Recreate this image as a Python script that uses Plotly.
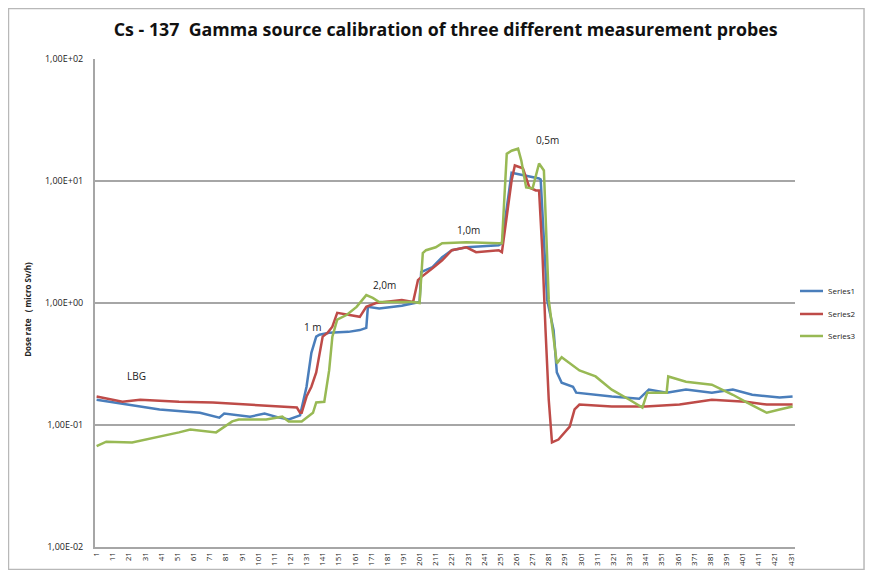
import math
import plotly.graph_objects as go

# sample number (category) and dose rate values
s1_x = [1, 21, 40, 65, 77, 80, 96, 105, 114, 120, 127, 131, 134, 137, 139, 145, 157, 164, 168, 169,
        176, 190, 197, 201, 202, 209, 215, 221, 230, 250, 252, 257, 258, 275, 276, 280, 281, 284, 286,
        289, 296, 298, 320, 337, 343, 354, 366, 382, 395, 407, 424, 432]
s1_y = [0.161, 0.147, 0.134, 0.126, 0.115, 0.124, 0.117, 0.124, 0.115, 0.111, 0.120, 0.206, 0.39, 0.53,
        0.55, 0.57, 0.58, 0.60, 0.625, 0.93, 0.90, 0.95, 1.0, 1.02, 1.79, 1.97, 2.37, 2.71, 2.86, 2.97,
        3.09, 10.1, 11.7, 10.5, 10.3, 1.06, 0.93, 0.60, 0.27, 0.222, 0.206, 0.184, 0.171, 0.164, 0.195,
        0.184, 0.195, 0.184, 0.195, 0.177, 0.168, 0.171]

s2_x = [1, 17, 28, 52, 73, 94, 114, 125, 127, 128, 131, 134, 137, 139, 141, 144, 147, 150, 157, 164,
        168, 174, 190, 197, 200, 202, 209, 215, 221, 230, 236, 250, 252, 255, 258, 260, 265, 269, 273,
        275, 277, 279, 281, 283, 287, 294, 297, 300, 320, 341, 362, 382, 403, 416, 432]
s2_y = [0.171, 0.155, 0.161, 0.155, 0.153, 0.147, 0.142, 0.139, 0.126, 0.126, 0.171, 0.206, 0.27, 0.39,
        0.53, 0.57, 0.64, 0.83, 0.80, 0.77, 0.93, 1.0, 1.06, 1.02, 1.54, 1.63, 1.93, 2.24, 2.71, 2.86,
        2.61, 2.71, 2.61, 5.0, 10.1, 13.4, 12.7, 8.85, 8.36, 8.36, 2.71, 0.60, 0.161, 0.072, 0.076,
        0.097, 0.134, 0.147, 0.142, 0.142, 0.147, 0.161, 0.155, 0.147, 0.147]

s3_x = [1, 7, 23, 38, 52, 59, 75, 85, 89, 106, 116, 120, 128, 135, 137, 142, 145, 147, 150, 156, 162,
        168, 172, 176, 197, 201, 203, 205, 211, 215, 230, 250, 252, 255, 258, 262, 264, 267, 271, 275,
        278, 281, 284, 286, 289, 300, 310, 320, 331, 339, 342, 354, 355, 366, 382, 395, 403, 416, 424, 432]
s3_y = [0.067, 0.073, 0.072, 0.079, 0.087, 0.092, 0.087, 0.107, 0.111, 0.111, 0.117, 0.107, 0.107,
        0.126, 0.153, 0.155, 0.28, 0.53, 0.73, 0.80, 0.93, 1.16, 1.10, 1.02, 1.02, 1.0, 2.56, 2.71, 2.86,
        3.09, 3.15, 3.09, 3.09, 16.7, 17.7, 18.4, 14.7, 8.85, 8.7, 13.9, 12.2, 1.06, 0.50, 0.32, 0.36,
        0.28, 0.25, 0.195, 0.161, 0.139, 0.184, 0.184, 0.25, 0.226, 0.214, 0.177, 0.155, 0.126, 0.134,
        0.142]

series_names = ['Series1', 'Series2', 'Series3']
series_colors = ['#4a7ebb', '#be4b48', '#98b954']

y_ticks = [0.01, 0.1, 1, 10, 100]
y_ticktext = ['1,00E-02', '1,00E-01', '1,00E+00', '1,00E+01', '1,00E+02']
x_ticks = list(range(1, 432, 10))

# text labels on the chart: (x, y, text)
labels = [(26, 0.25, 'LBG'), (135, 0.64, '1 m'), (179, 1.40, '2,0m'),
          (231, 4.0, '1,0m'), (280, 21.8, '0,5m')]

fig = go.Figure()

for xs, ys, name, color in zip([s1_x, s2_x, s3_x], [s1_y, s2_y, s3_y], series_names, series_colors):
    fig.add_trace(go.Scatter(
        x=xs, y=ys, mode='lines', name=name, showlegend=False,
        line=dict(color=color, width=2.5)
    ))

# annotations on a log axis take log10 positions
for lx, ly, txt in labels:
    fig.add_annotation(x=lx, y=math.log10(ly), yref='y', xref='x', text=txt, showarrow=False,
                       font=dict(size=10, color='#222222'))

# legend drawn by hand next to the plot, as in the excel chart
legend_y = [0.5246, 0.4775, 0.4324]
for name, color, ly in zip(series_names, series_colors, legend_y):
    fig.add_shape(type='line', xref='paper', yref='paper', x0=1.0071, x1=1.04, y0=ly, y1=ly,
                  line=dict(color=color, width=2.5))
    fig.add_annotation(x=1.0443, y=ly, xref='paper', yref='paper', text=name, showarrow=False,
                       xanchor='left', yanchor='middle', font=dict(size=8, color='#222222'))

# y axis title
fig.add_annotation(x=-0.0957, y=0.486, xref='paper', yref='paper', text='<b>Dose rate   ( micro Sv/h)</b>',
                   textangle=-90, showarrow=False, xanchor='center', yanchor='middle',
                   font=dict(size=8, color='#222222'))

# excel-style chart border
fig.add_shape(type='rect', xref='paper', yref='paper', x0=-0.1236, x1=1.0986, y0=-0.046, y1=1.1035,
              line=dict(color='#b8b8b8', width=1.5))

# page body has an 8px margin, so the figure is sized to fit inside it
fig.update_layout(
    template='plotly_white',
    width=857, height=562,
    margin=dict(l=87, r=70, t=51, b=23),
    showlegend=False,
    paper_bgcolor='white', plot_bgcolor='white',
    font=dict(family='Open Sans, sans-serif', color='#222222'),
    title=dict(text='<b>Cs - 137  Gamma source calibration of three different measurement probes</b>',
               xref='paper', x=0.501, xanchor='center', y=0.961, yanchor='middle',
               font=dict(size=17.8, color='#111111')),
    xaxis=dict(
        range=[0, 433.5], tickvals=x_ticks, ticktext=[str(v) for v in x_ticks],
        tickangle=-90, tickfont=dict(size=8), showgrid=False, automargin=False,
        showline=True, linecolor='#a6a6a6', linewidth=2, zeroline=False, ticks=''
    ),
    yaxis=dict(
        type='log', range=[-2, 2], tickvals=y_ticks, ticktext=y_ticktext,
        tickfont=dict(size=9), showgrid=True, gridcolor='#a6a6a6', gridwidth=1.5,
        showline=True, linecolor='#a6a6a6', linewidth=2, zeroline=False,
        ticks='outside', ticklen=8, tickcolor='rgba(0,0,0,0)', automargin=False
    )
)

fig.write_html("out.html")
